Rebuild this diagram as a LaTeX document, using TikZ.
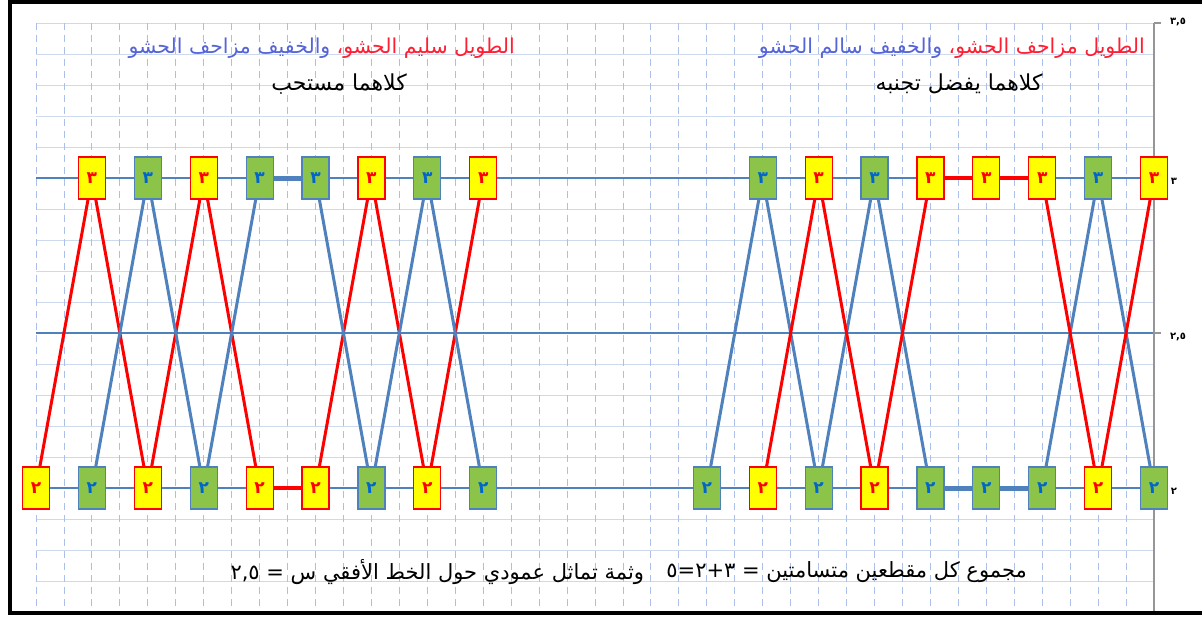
\documentclass[tikz,border=0pt]{standalone}
\usepackage{fontspec}
\newfontfamily\arabicfont[Script=Arabic]{DejaVu Sans}
\TeXXeTstate=1
\usetikzlibrary{backgrounds}
\definecolor{ared}{RGB}{255,0,0}
\definecolor{ablue}{RGB}{79,129,189}
\definecolor{ayel}{RGB}{255,255,0}
\definecolor{agreen}{RGB}{140,196,74}
\definecolor{dblue}{RGB}{0,102,204}
\definecolor{tblue}{RGB}{85,100,215}
\definecolor{tred}{RGB}{255,30,50}
\definecolor{gridc}{RGB}{205,218,238}
\definecolor{vgridc}{RGB}{170,192,235}
\definecolor{axisc}{RGB}{150,150,150}
\tikzset{
  ybox/.style={rectangle, fill=ayel, draw=ared, line width=1.2pt, minimum width=27pt, minimum height=42pt, inner sep=0pt, text=ared, font=\arabicfont\bfseries\fontsize{17}{17}\selectfont},
  gbox/.style={rectangle, fill=agreen, draw=ablue, line width=1.2pt, minimum width=27pt, minimum height=42pt, inner sep=0pt, text=dblue, font=\arabicfont\bfseries\fontsize{17}{17}\selectfont},
  rline/.style={draw=ared, line width=3pt},
  bline/.style={draw=ablue, line width=3pt},
  rthick/.style={draw=ared, line width=4pt},
  bthick/.style={draw=ablue, line width=5pt},
  ttl/.style={inner sep=0pt, font=\arabicfont\fontsize{20.5}{24}\selectfont},
  ttlb/.style={inner sep=0pt, font=\arabicfont\fontsize{22}{26}\selectfont},
  btm/.style={inner sep=0pt, font=\arabicfont\fontsize{21}{24}\selectfont},
  axl/.style={inner sep=0pt, font=\arabicfont\bfseries\fontsize{10}{11}\selectfont},
}
\begin{document}
\begin{tikzpicture}[x=1pt,y=-1pt]
\useasboundingbox (0,0) rectangle (1202,616);
% grid
\begin{scope}[on background layer]
\fill[white] (0,0) rectangle (1202,616);
\foreach \k in {0,...,19} \draw[gridc, line width=1pt] (36,{23+31*\k}) -- (1154,{23+31*\k});
\foreach \j in {0,...,39} \draw[vgridc, line width=0.9pt, dash pattern=on 7pt off 5pt] ({36+27.95*\j},23) -- ({36+27.95*\j},612);
\foreach \yy in {178,333,488} \draw[ablue, line width=1.2pt] (36,\yy) -- (1154,\yy);
\end{scope}
% axis
\draw[axisc, line width=1.6pt] (1154,23) -- (1154,614);
\foreach \yy in {23,178,333,488} \draw[axisc, line width=1.2pt] (1154,\yy) -- (1161,\yy);
\node[axl] (a1) at (1178,22) {\hbox{\hbox{٣}\hbox{,}\hbox{٥}}};
\node[axl] (a2) at (1174,181) {٣};
\node[axl] (a3) at (1178,337) {\hbox{\hbox{٢}\hbox{,}\hbox{٥}}};
\node[axl] (a4) at (1174,491) {٢};
% frame
\draw[black, line width=4pt] (1202,2) -- (9.5,2) -- (9.5,613) -- (1202,613);
% nodes
\foreach \k/\s in {0/ybox,1/gbox,2/ybox,3/gbox,4/ybox,5/ybox,6/gbox,7/ybox,8/gbox,12/gbox,13/ybox,14/gbox,15/ybox,16/gbox,17/gbox,18/gbox,19/ybox,20/gbox}
  \node[\s] (b\k) at ({36+55.9*\k},488) {٢};
\foreach \k/\s in {1/ybox,2/gbox,3/ybox,4/gbox,5/gbox,6/ybox,7/gbox,8/ybox,13/gbox,14/ybox,15/gbox,16/ybox,17/ybox,18/ybox,19/gbox,20/ybox}
  \node[\s] (t\k) at ({36+55.9*\k},178) {٣};
% connectors
\begin{scope}[on background layer]
\draw[rline] (b0.center) -- (t1.center) -- (b2.center) -- (t3.center) -- (b4.center);
\draw[rthick] (b4.center) -- (b5.center);
\draw[rline] (b5.center) -- (t6.center) -- (b7.center) -- (t8.center);
\draw[bline] (b1.center) -- (t2.center) -- (b3.center) -- (t4.center);
\draw[bthick] (t4.center) -- (t5.center);
\draw[bline] (t5.center) -- (b6.center) -- (t7.center) -- (b8.center);
\draw[bline] (b12.center) -- (t13.center) -- (b14.center) -- (t15.center) -- (b16.center);
\draw[bthick] (b16.center) -- (b17.center) -- (b18.center);
\draw[bline] (b18.center) -- (t19.center) -- (b20.center);
\draw[rline] (b13.center) -- (t14.center) -- (b15.center) -- (t16.center);
\draw[rthick] (t16.center) -- (t17.center) -- (t18.center);
\draw[rline] (t18.center) -- (b19.center) -- (t20.center);
\end{scope}
% titles
\node[ttl, text=tred, anchor=east] (lr) at (515,48) {\beginR الطويل سليم الحشو،\endR};
\node[ttl, text=tblue, anchor=east] (lb) at ([xshift=-6pt]lr.west) {\beginR والخفيف مزاحف الحشو\endR};
\node[ttlb] (l2) at (339,84) {\beginR كلاهما مستحب\endR};
\node[ttl, text=tred, anchor=east] (rr) at (1145,48) {\beginR الطويل مزاحف الحشو،\endR};
\node[ttl, text=tblue, anchor=east] (rb) at ([xshift=-6pt]rr.west) {\beginR والخفيف سالم الحشو\endR};
\node[ttlb] (r2) at (959,84) {\beginR كلاهما يفضل تجنبه\endR};
% bottom
\node[btm, anchor=east] (br) at (1027,572) {\beginR مجموع كل مقطعين متسامتين = \beginL\hbox{٥}\hbox{=}\hbox{٢}\hbox{+}\hbox{٣}\endL{}\endR};
\node[btm, anchor=east] (bl) at ([xshift=-22pt]br.west) {\beginR وثمة تماثل عمودي حول الخط الأفقي س = \beginL\hbox{٢}\hbox{,}\hbox{٥}\endL{}\endR};
\end{tikzpicture}
\end{document}
